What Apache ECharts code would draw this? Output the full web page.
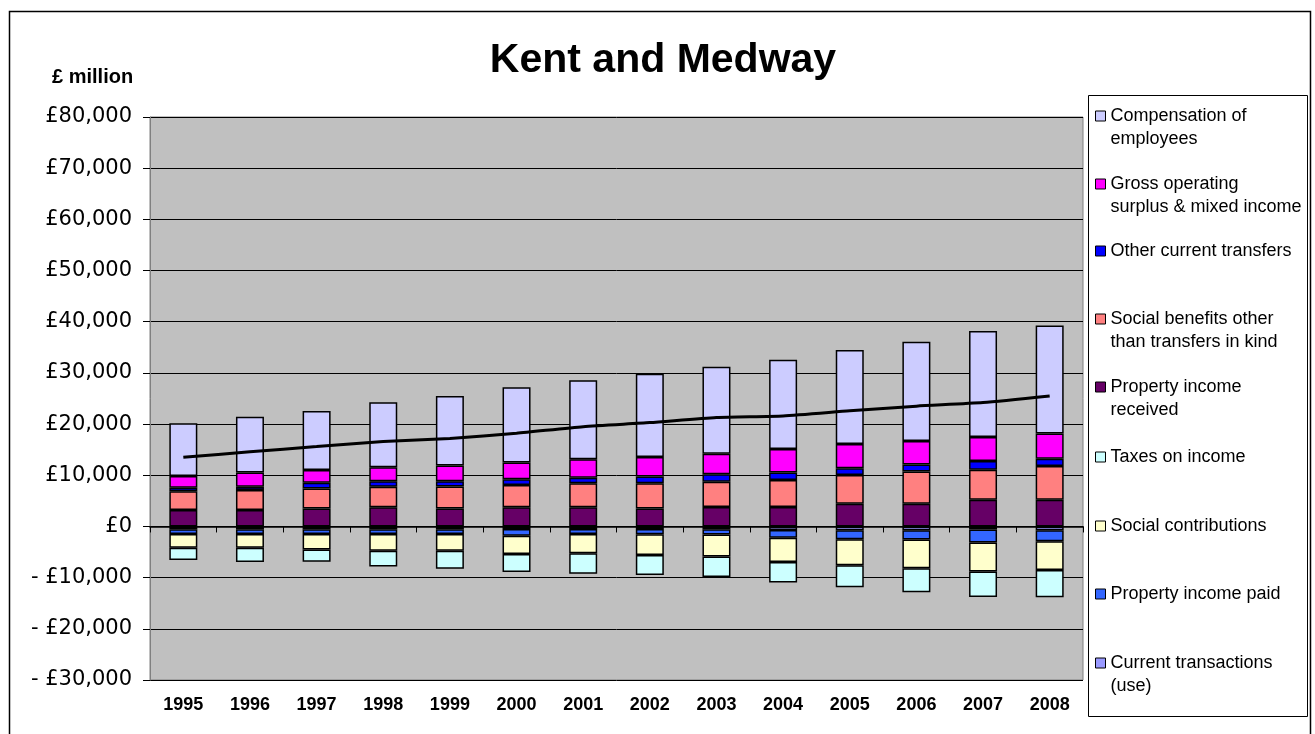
<!DOCTYPE html>
<html>
<head>
<meta charset="utf-8">
<script src="https://cdn.jsdelivr.net/npm/echarts@6/dist/echarts.min.js"></script>
<style>html,body{margin:0;padding:0;background:#fff;}#c{width:1315px;height:734px;}</style>
</head>
<body>
<div id="c"></div>
<script>
// ---- data (£ million) ----
const years = ['1995','1996','1997','1998','1999','2000','2001','2002','2003','2004','2005','2006','2007','2008'];
// positive components (stacked from zero upward)
const propertyIncomeReceived = [3200, 3200, 3500, 3750, 3500, 3750, 3750, 3500, 3800, 3800, 4450, 4450, 5200, 5200];
const socialBenefits        = [3700, 3900, 3900, 4000, 4300, 4350, 4700, 4950, 4950, 5300, 5600, 6300, 5900, 6600];
const otherCurrentTransfers = [650, 650, 1150, 1100, 1050, 1100, 1050, 1300, 1450, 1450, 1300, 1350, 1700, 1450];
const grossOperatingSurplus = [2300, 2800, 2500, 2700, 3050, 3300, 3650, 3800, 4000, 4600, 4750, 4600, 4700, 4900];
const compensation          = [10300, 10900, 11500, 12700, 13600, 14700, 15400, 16300, 17000, 17400, 18400, 19400, 20700, 21100];
// negative components (stacked from zero downward)
const currentTransactionsUse = [-550, -550, -550, -550, -550, -500, -500, -500, -550, -700, -750, -750, -600, -750];
const propertyIncomePaid     = [-900, -900, -900, -900, -900, -1300, -950, -1000, -1000, -1500, -1750, -1800, -2550, -2150];
const socialContributions    = [-2700, -2700, -3050, -3300, -3300, -3600, -3800, -4100, -4300, -4750, -5100, -5600, -5650, -5600];
const taxesOnIncome          = [-2400, -2800, -2400, -3050, -3500, -3500, -4000, -3900, -4050, -4000, -4300, -4700, -5000, -5350];
// line (net total)
const netTotal = [13500, 14600, 15600, 16600, 17200, 18200, 19500, 20300, 21300, 21600, 22600, 23500, 24200, 25500];

const names = {
  comp: 'Compensation of\nemployees',
  gos: 'Gross operating\nsurplus & mixed income',
  oct: 'Other current transfers',
  sb: 'Social benefits other\nthan transfers in kind',
  pir: 'Property income\nreceived',
  tax: 'Taxes on income',
  sc: 'Social contributions',
  pip: 'Property income paid',
  use: 'Current transactions\n(use)'
};
const colors = {
  comp: '#CCCCFF', gos: '#FF00FF', oct: '#0000FF', sb: '#FF8080', pir: '#660066',
  tax: '#CCFFFF', sc: '#FFFFCC', pip: '#3366FF', use: '#9999FF'
};

function bar(key, data) {
  return {
    type: 'bar', name: names[key], stack: 'all', data: data, barWidth: 28,
    itemStyle: { color: colors[key], borderColor: '#000', borderWidth: 1.5 }
  };
}

// legend layout: one legend per entry, icon centre y positions
const legendOrder = ['comp','gos','oct','sb','pir','tax','sc','pip','use'];
const legendIconY = [116, 184, 251, 319, 387, 457, 526, 594, 663];
const legends = legendOrder.map(function (k, i) {
  const twoLine = names[k].indexOf('\n') >= 0;
  return {
    data: [names[k]], orient: 'vertical', left: 1095,
    top: legendIconY[i] - (twoLine ? 34.5 : 11.5),
    padding: 0, itemWidth: 10, itemHeight: 10, itemGap: 7, icon: 'rect',
    selectedMode: false,
    formatter: function (n) { return twoLine ? '\n' + n : n; },
    itemStyle: { borderColor: '#000', borderWidth: 1 },
    textStyle: { fontFamily: 'Liberation Sans', fontSize: 18, color: '#000', lineHeight: 23 }
  };
});

function fmt(v) {
  const s = Math.abs(v).toString().replace(/\B(?=(\d{3})+(?!\d))/g, ',');
  return v < 0 ? '- £' + s : '£' + s;
}

const chart = echarts.init(document.getElementById('c'), null, { renderer: 'canvas' });
chart.setOption({
  backgroundColor: '#fff',
  animation: false,
  title: [
    { text: 'Kent and Medway', left: 658, textAlign: 'center', top: 35,
      textStyle: { fontFamily: 'Liberation Sans', fontWeight: 'bold', fontSize: 41, color: '#000' } },
    { text: '£ million', left: 47, top: 62,
      textStyle: { fontFamily: 'Liberation Sans', fontWeight: 'bold', fontSize: 20, color: '#000' } }
  ],
  legend: legends,
  graphic: [
    { type: 'rect', left: 7, top: 9, z: -1, shape: { width: 1301, height: 740 },
      style: { fill: 'none', stroke: '#000', lineWidth: 1.5 } },
    { type: 'rect', left: 1086, top: 93, z: -1, shape: { width: 219, height: 621 },
      style: { fill: 'none', stroke: '#000', lineWidth: 1 } }
  ],
  grid: { left: 150, right: 232, top: 117, bottom: 54, show: true,
    backgroundColor: '#C0C0C0', borderColor: '#808080', borderWidth: 1, containLabel: false },
  xAxis: [
    { type: 'category', data: years, position: 'bottom',
      axisLine: { show: false, onZero: false }, axisTick: { show: false },
      axisLabel: { margin: 16, fontFamily: 'Liberation Sans', fontWeight: 'bold', fontSize: 18, color: '#000' } },
    { type: 'category', data: years, position: 'bottom',
      axisLine: { show: true, onZero: true, lineStyle: { color: '#000', width: 1.5 } },
      axisTick: { show: true, length: 6, lineStyle: { color: '#000' } },
      axisLabel: { show: false } }
  ],
  yAxis: {
    type: 'value', min: -30000, max: 80000, interval: 10000,
    axisLine: { show: true, lineStyle: { color: '#808080' } },
    axisTick: { show: true, length: 7, lineStyle: { color: '#000' } },
    splitLine: { show: true, lineStyle: { color: '#000', width: 1 } },
    axisLabel: { margin: 18, formatter: fmt, fontFamily: 'DejaVu Sans', fontSize: 21, color: '#000' }
  },
  series: [
    bar('pir', propertyIncomeReceived),
    bar('sb', socialBenefits),
    bar('oct', otherCurrentTransfers),
    bar('gos', grossOperatingSurplus),
    bar('comp', compensation),
    bar('use', currentTransactionsUse),
    bar('pip', propertyIncomePaid),
    bar('sc', socialContributions),
    bar('tax', taxesOnIncome),
    { type: 'line', name: 'Net', data: netTotal, smooth: 0.2, symbol: 'none', z: 10,
      lineStyle: { color: '#000', width: 3 } }
  ]
});
</script>
</body>
</html>
